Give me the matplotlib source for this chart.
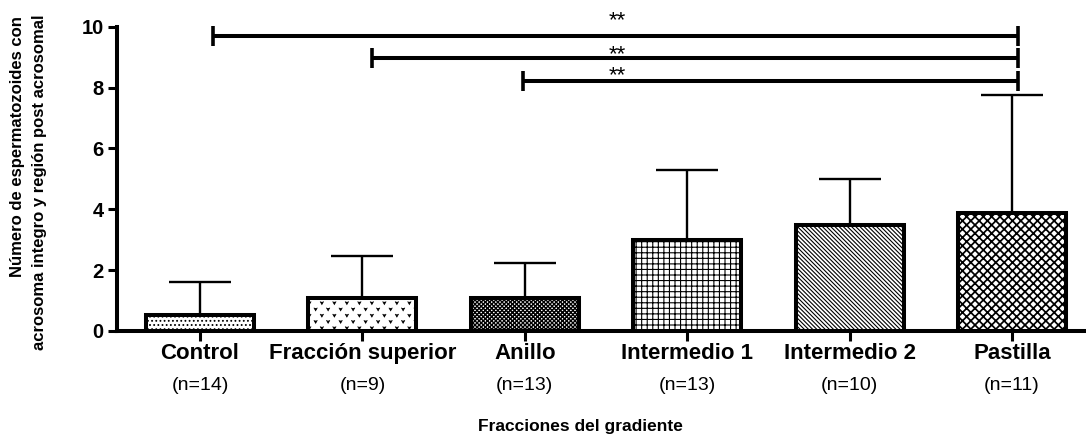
import warnings
import numpy as np
import matplotlib
matplotlib.use("Agg")
import matplotlib.pyplot as plt
from matplotlib import hatch as mhatch
from matplotlib.path import Path

warnings.filterwarnings("ignore")

# ---------------- data ----------------
categories = ["Control", "Fracción superior", "Anillo", "Intermedio 1", "Intermedio 2", "Pastilla"]
n_labels = ["(n=14)", "(n=9)", "(n=13)", "(n=13)", "(n=10)", "(n=11)"]
means = [0.52, 1.09, 1.07, 2.98, 3.48, 3.89]
sd_upper = [1.10, 1.38, 1.17, 2.30, 1.50, 3.88]
hatches = ["....", "v", "x" * 8, "+++", "\\" * 8, "xxxx"]
hatch_lw = [0.8, 0.6, 1.0, 0.8, 0.8, 1.25]
yticks = [0, 2, 4, 6, 8, 10]
sig_start = [0.08, 1.06, 1.99]
sig_end = 5.035
sig_y = [9.70, 8.96, 8.23]
sig_text = ["**", "**", "**"]
sig_text_x = 2.57
sig_text_y = [10.03, 8.89, 8.20]
ylabel_lines = ["Número de espermatozoides con", "acrosoma integro y región post acrosomal"]

FONT = ["Liberation Sans", "DejaVu Sans"]
plt.rcParams["font.family"] = FONT


# custom small "v" hatch
class VHatch(mhatch.HatchPatternBase):
    def __init__(self, hatch, density):
        self.cols = 8
        self.rows = 16
        self.num_vertices = self.cols * self.rows * 3 if hatch.count("v") else 0

    def set_vertices_and_codes(self, vertices, codes):
        hw, hh = 0.015, 0.013
        k = 0
        for r in range(self.rows):
            yc = (r + 0.5) / self.rows
            shift = 0.25 if r % 2 == 0 else 0.75
            for c in range(self.cols):
                xc = (c + shift) / self.cols
                vertices[k] = (xc - hw, yc + hh)
                vertices[k + 1] = (xc, yc - hh)
                vertices[k + 2] = (xc + hw, yc + hh)
                codes[k] = Path.MOVETO
                codes[k + 1] = Path.LINETO
                codes[k + 2] = Path.LINETO
                k += 3


mhatch._hatch_types.append(VHatch)

fig = plt.figure(figsize=(10.86, 4.36), dpi=100)
ax = fig.add_axes([117 / 1086, 1 - 331 / 436, 1 - 117 / 1086, (331 - 26.7) / 436])

x = np.arange(len(categories))
ax.errorbar(x, means, yerr=[np.zeros(len(means)), sd_upper], fmt="none",
            ecolor="black", elinewidth=1.7, capsize=22.3, capthick=1.7, zorder=2)

for xi, m, h, hl in zip(x, means, hatches, hatch_lw):
    with plt.rc_context({"hatch.linewidth": hl, "hatch.color": "black"}):
        b = ax.bar(xi, m, width=0.665, color="white", edgecolor="black",
                   linewidth=2.9, zorder=3, hatch=h)
        for p in b:
            p.set_joinstyle("miter")
            if hasattr(p, "set_hatch_linewidth"):
                p.set_hatch_linewidth(hl)

ax.set_xlim(-0.511, 5.456)
ax.set_ylim(0, 10)
for s in ["top", "right"]:
    ax.spines[s].set_visible(False)
for s in ["left", "bottom"]:
    ax.spines[s].set_linewidth(2.9)

ax.set_yticks(yticks)
ax.set_yticklabels([str(t) for t in yticks], fontsize=14.5, fontweight="bold")
ax.set_xticks(x)
ax.set_xticklabels(categories, fontsize=16, fontweight="bold")
ax.tick_params(axis="y", direction="out", width=2.2, length=6.5, pad=3)
ax.tick_params(axis="x", direction="out", width=2.2, length=7, pad=1.5)

for xi, lab in zip(x, n_labels):
    ax.text(xi, -0.194, lab, transform=ax.get_xaxis_transform(), ha="center",
            va="baseline", fontsize=14)

for xs, y in zip(sig_start, sig_y):
    ax.plot([xs, sig_end], [y, y], color="black", lw=2.9, clip_on=False,
            solid_capstyle="butt", zorder=4)
    ax.vlines([xs, sig_end], y - 0.33, y + 0.33, color="black", lw=2.6,
              clip_on=False, zorder=4)
for ty, t in zip(sig_text_y, sig_text):
    ax.text(sig_text_x, ty, t, ha="center", va="baseline", fontsize=16,
            clip_on=False, zorder=5)

fig.text(580 / 1086, 1 - 426 / 436, "Fracciones del gradiente", ha="center",
         va="center", fontsize=12.5, fontweight="bold")
fig.text(18 / 1086, 1 - 16 / 436, ylabel_lines[0], rotation=90, ha="center",
         va="top", fontsize=12.0, fontweight="bold")
fig.text(40 / 1086, 1 - 15 / 436, ylabel_lines[1], rotation=90, ha="center",
         va="top", fontsize=12.0, fontweight="bold")

fig.savefig("out.png", dpi=100)
